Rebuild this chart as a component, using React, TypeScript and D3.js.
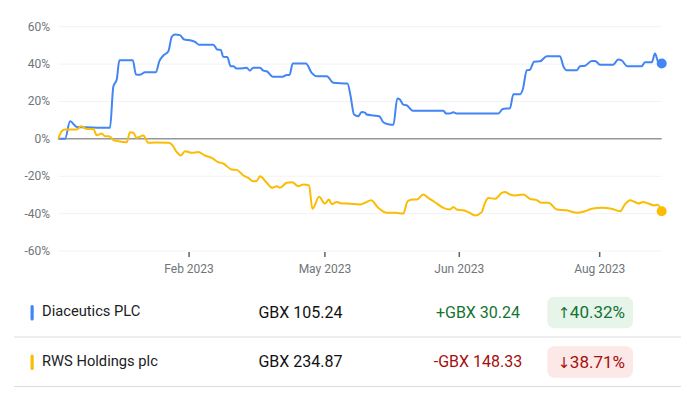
import React, { useLayoutEffect, useRef, useState } from "react";
import * as d3 from "d3";

const seriesNames = ["Diaceutics PLC", "RWS Holdings plc"];
const seriesColors = ["#4285f4", "#fbbc04"];
const prices = ["GBX 105.24", "GBX 234.87"];
const changes = ["+GBX 30.24", "-GBX 148.33"];
const changeArrows = ["↑", "↓"];
const changePcts = ["40.32%", "38.71%"];
const changeColors = ["#137333", "#a50e0e"];
const badgeFills = ["#e6f4ea", "#fce8e6"];

// [trading session index, % change]
const diaceuticsData: [number, number][] = [
  [0, 0], [2.8, 0], [4.9, 9.4], [7.7, 6.4], [11.1, 6.2], [21.5, 5.9], [22.9, 28], [24.3, 31.7],
  [25.4, 42], [31, 42], [32.3, 34.4], [34, 34.3], [36.1, 35.6], [40.6, 35.6], [42, 41.5],
  [43.7, 44.6], [45.8, 46.9], [47.2, 54.6], [48.5, 55.8], [50.6, 55.5], [52.4, 53.1],
  [54.8, 52.8], [56.9, 51.9], [58.5, 50.4], [64.5, 50.4], [66.1, 47.8], [67.6, 47.6],
  [68.6, 43.9], [70.3, 43.8], [71.7, 38.8], [72.8, 38.8], [74.2, 37.6], [77, 37.8],
  [78.4, 38], [79.7, 36.5], [81.1, 38], [83.9, 38], [85.3, 36.5], [86.7, 36.2], [89.2, 33.2],
  [93.3, 33.2], [95, 34.2], [96.2, 34.2], [97.5, 40.3], [103, 40.3], [105.4, 35.3],
  [107.5, 33.5], [111.7, 33.5], [114.4, 30], [120.3, 29.6], [121.6, 22.8], [123, 13],
  [124.8, 12.1], [126.2, 14.4], [127.6, 14], [128.3, 13], [131, 12.5], [133.5, 12.1],
  [135.2, 8.9], [137.3, 7.8], [139.4, 7.5], [141, 21.6], [142.1, 21], [143.5, 18.3],
  [144.9, 18], [147.4, 15.1], [160.2, 15.1], [161.3, 13.5], [162.9, 13.5], [164.3, 14.2],
  [165.7, 13.5], [183, 13.5], [184.9, 16], [187.9, 16.4], [189.3, 23.9], [192.1, 23.9],
  [193.2, 26.4], [194.9, 36.7], [196.2, 37], [197.9, 41.3], [200.4, 41.5], [203.2, 44.2],
  [208.7, 44.2], [210.1, 38.8], [211.5, 36.7], [215.7, 36.7], [217, 38.8], [219.1, 39.1],
  [221.9, 41.7], [223.3, 41.7], [225.3, 39.7], [230.8, 39.7], [232.9, 42.4], [234.3, 42],
  [236.7, 38.8], [242.7, 38.8], [244, 41], [246.9, 41], [248.2, 45.6], [249.6, 41], [251, 40.32],
];

const rwsData: [number, number][] = [
  [0, 0], [1.4, 4.1], [2.8, 5], [7.7, 5], [9.4, 6.7], [11.8, 5.3], [14.6, 5.3], [16, 1.9],
  [18.1, 2.8], [19.4, 1.4], [21.5, 1.3], [22.9, -0.7], [25, -1.3], [28.5, -1.8], [29.8, 3.5],
  [31.2, 3.3], [32.6, 0.5], [35.4, 1.8], [37.4, -2.1], [40.2, -2], [45.8, -2.1], [47.2, -3],
  [49.3, -7.1], [51, -8.9], [52.7, -6.6], [55.5, -7.5], [58.2, -7.1], [61, -8.9],
  [63.8, -10.2], [66.6, -12.5], [68.6, -13.2], [72.1, -16.4], [74.2, -16.6], [77, -19.6],
  [79, -20.9], [81.1, -22.7], [82.5, -22.5], [83.9, -20], [86.7, -23.5], [89, -26.2],
  [90.9, -25.3], [92.2, -26.2], [95, -23.5], [97.3, -23.2], [99.8, -25.3], [101.9, -24.4],
  [104.3, -24.9], [105.7, -37.4], [108.5, -31], [110.9, -34.6], [112.6, -32.5],
  [113.7, -34.9], [115.8, -33.8], [117.9, -34.6], [120, -34.6], [125.5, -35.1],
  [127.6, -34.2], [130.1, -32.8], [133.1, -36.9], [136.6, -39.6], [140.1, -39.6],
  [143.5, -40], [145.3, -33.4], [147.3, -32.5], [149.1, -32.5], [151.8, -29.8],
  [153.9, -31.6], [156.7, -33.9], [160.2, -36.9], [163, -37.8], [164.3, -36.4],
  [165.7, -37.8], [168.5, -38.2], [170.6, -39.2], [173.4, -41], [176.1, -39.2],
  [177.5, -34.2], [178.9, -31.6], [181.7, -32.1], [184.5, -28.9], [185.8, -28.5],
  [187.9, -29.8], [190, -30.3], [193.4, -29.8], [196.2, -32.1], [199, -32.8], [201.1, -34.2],
  [203.9, -34.2], [207.4, -37.8], [211.5, -38.2], [215.7, -39.6], [219.1, -38.7],
  [221.9, -37.4], [226.1, -36.9], [230.2, -37.4], [233.7, -38.7], [235.7, -35.1],
  [237.8, -32.8], [239.9, -33.8], [241.3, -34.6], [243.3, -33.8], [245.4, -34.6],
  [247.9, -35.6], [249.3, -35.2], [251, -38.71],
];

const yTicks = [-60, -40, -20, 0, 20, 40, 60];
const xTickLabels = ["Feb 2023", "May 2023", "Jun 2023", "Aug 2023"];
const xTickSessions = [54.4, 110.9, 166.8, 225.2];

const W = 689;
const H = 400;
const FONT = "Roboto, 'Noto Sans', Arial, sans-serif";

function Badge({ arrow, text, fill, color, right, cy }: { arrow: string; text: string; fill: string; color: string; right: number; cy: number }) {
  const ref = useRef<SVGTextElement>(null);
  const [tw, setTw] = useState(70);
  useLayoutEffect(() => {
    if (ref.current) setTw(ref.current.getComputedTextLength());
  }, [text]);
  const padR = 8;
  const padL = 10;
  return (
    <g>
      <rect x={right - padR - tw - padL} y={cy - 15.8} width={tw + padL + padR} height={31.6} rx={7} fill={fill} />
      <text ref={ref} x={right - padR} y={cy + 5.5} textAnchor="end" fontSize={17} fill={color} fontFamily={FONT}>
        <tspan fontFamily="'DejaVu Sans', sans-serif" fontSize={15}>{arrow}</tspan>
        <tspan dx={-0.5}>{text}</tspan>
      </text>
    </g>
  );
}

export default function App() {
  const x = d3.scaleLinear().domain([0, 251]).range([58.3, 661.7]);
  const y = d3.scaleLinear().domain([-60, 60]).range([251, 26.7]);
  const line = d3
    .line<[number, number]>()
    .x((d) => x(d[0]))
    .y((d) => y(d[1]))
    .curve(d3.curveMonotoneX);
  const series = [diaceuticsData, rwsData];
  const rowY = [312.5, 362];

  return (
    <div style={{ position: "fixed", left: 0, top: 0 }}>
      <svg width={W} height={H} style={{ display: "block", background: "#fff" }}>
        {yTicks.map((t) => (
          <g key={t}>
            {t !== 0 && (
              <line x1={x(0)} x2={x(251)} y1={y(t)} y2={y(t)} stroke="#f1f3f4" strokeWidth={1} />
            )}
            <text x={50} y={y(t) + 4} textAnchor="end" fontSize={12} fill="#70757a" fontFamily={FONT}>
              {`${t}%`}
            </text>
          </g>
        ))}
        <line x1={x(0)} x2={x(251)} y1={y(0)} y2={y(0)} stroke="#5f6368" strokeWidth={1} />
        {xTickLabels.map((lab, i) => (
          <g key={lab}>
            <line
              x1={x(xTickSessions[i])}
              x2={x(xTickSessions[i])}
              y1={252}
              y2={257}
              stroke="#5f6368"
              strokeWidth={1.5}
            />
            <text x={x(xTickSessions[i])} y={273} textAnchor="middle" fontSize={12} fill="#70757a" fontFamily={FONT}>
              {lab}
            </text>
          </g>
        ))}
        {series.map((s, i) => (
          <g key={i}>
            <path d={line(s) || ""} fill="none" stroke={seriesColors[i]} strokeWidth={2} strokeLinejoin="round" />
            <circle cx={x(s[s.length - 1][0])} cy={y(s[s.length - 1][1])} r={5} fill={seriesColors[i]} />
          </g>
        ))}

        {seriesNames.map((name, i) => (
          <g key={name}>
            <rect x={30.5} y={rowY[i] - 7.5} width={3.2} height={15.5} rx={1.5} fill={seriesColors[i]} />
            <text x={42} y={rowY[i] + 3.5} fontSize={14.7} fill="#202124" fontFamily={FONT}>
              {name}
            </text>
            <text x={300.5} y={rowY[i] + 5} textAnchor="middle" fontSize={16} fill="#111" fontFamily={FONT}>
              {prices[i]}
            </text>
            <text x={478} y={rowY[i] + 5} textAnchor="middle" fontSize={16} fill={changeColors[i]} fontFamily={FONT}>
              {changes[i]}
            </text>
            <Badge
              arrow={changeArrows[i]}
              text={changePcts[i]}
              fill={badgeFills[i]}
              color={changeColors[i]}
              right={633}
              cy={rowY[i]}
            />
            <line x1={14} x2={681} y1={rowY[i] + 24.5} y2={rowY[i] + 24.5} stroke="#dadce0" strokeWidth={1} />
          </g>
        ))}
      </svg>
    </div>
  );
}
